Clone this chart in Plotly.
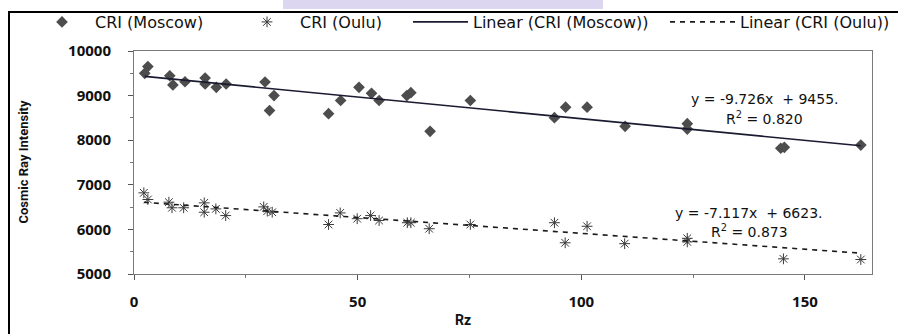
import plotly.graph_objects as go

# ---------------- data ----------------
rz_moscow = [2.4, 3.1, 8.0, 8.7, 11.4, 15.9, 15.9, 18.4, 20.6, 29.3, 30.3, 31.3,
             43.5, 46.2, 50.3, 53.1, 54.8, 61.0, 61.9, 66.2, 75.2, 94.0, 96.5,
             101.3, 109.8, 123.7, 123.7, 144.6, 145.4, 162.5]
cri_moscow = [9500, 9650, 9445, 9240, 9310, 9395, 9260, 9185, 9260, 9305, 8665, 9000,
              8595, 8890, 9185, 9050, 8890, 9000, 9065, 8200, 8890, 8505, 8740,
              8740, 8310, 8370, 8250, 7820, 7840, 7890]

rz_oulu = [2.2, 3.1, 7.8, 8.5, 11.1, 15.7, 15.7, 18.3, 20.5, 29.0, 29.8, 30.9,
           43.5, 46.1, 49.9, 52.9, 54.8, 61.1, 61.9, 66.0, 75.2, 94.0, 96.4,
           101.3, 109.7, 123.7, 123.7, 145.2, 162.5]
cri_oulu = [6820, 6670, 6610, 6485, 6485, 6595, 6385, 6460, 6310, 6505, 6410, 6385,
            6110, 6370, 6240, 6310, 6200, 6150, 6150, 6015, 6110, 6150, 5700,
            6070, 5680, 5800, 5720, 5340, 5325]

# trendline coefficients as printed on the chart
slope_moscow, icpt_moscow, r2_moscow = -9.726, 9455, 0.820
slope_oulu, icpt_oulu, r2_oulu = -7.117, 6623, 0.873

x_ticks = [0, 50, 100, 150]
x_ticktext = ["0", "50", "100", "150"]
y_ticks = [5000, 6000, 7000, 8000, 9000, 10000]
y_ticktext = ["5000", "6000", "7000", "8000", "9000", "10000"]

# ---------------- figure ----------------
def trend(xs, m, b):
    xr = [min(xs), max(xs)]
    return xr, [m * v + b for v in xr]

tmx, tmy = trend(rz_moscow, slope_moscow, icpt_moscow)
tox, toy = trend(rz_oulu, slope_oulu, icpt_oulu)

fig = go.Figure()
fig.add_trace(go.Scatter(
    x=rz_moscow, y=cri_moscow, mode="markers", name="CRI (Moscow)",
    marker=dict(symbol="diamond", size=9, color="#4d4d4d"), legend="legend"))
fig.add_trace(go.Scatter(
    x=rz_oulu, y=cri_oulu, mode="markers", name="CRI (Oulu)",
    marker=dict(symbol="asterisk-open", size=9, color="#3a3a3a",
                line=dict(width=1, color="#3a3a3a")), legend="legend2"))
fig.add_trace(go.Scatter(
    x=tmx, y=tmy, mode="lines", name="Linear (CRI (Moscow))",
    line=dict(color="#1a1a30", width=1.6), legend="legend3"))
fig.add_trace(go.Scatter(
    x=tox, y=toy, mode="lines", name="Linear (CRI (Oulu))",
    line=dict(color="#1a1a1a", width=1.6, dash="5px,5px"), legend="legend4"))

L, R, T, B = 134, 26, 51, 60
W, H = 898, 334
pw, ph = W - L - R, H - T - B

def px(xp):
    return (xp - L) / pw

def py(yp):
    return (H - B - yp) / ph

leg_font = dict(family="DejaVu Sans", size=16, color="#111")
common = dict(orientation="h", yanchor="middle", y=py(22), xanchor="left",
              bgcolor="rgba(0,0,0,0)", font=leg_font)

tick_font = dict(family="Open Sans", size=15, color="#111", weight="bold")
axis_common = dict(showline=True, mirror=True, linecolor="#7a7a7a", linewidth=1,
                   showgrid=False, zeroline=False, ticks="outside", ticklen=5,
                   tickcolor="#555", tickfont=tick_font, automargin=False)

fig.update_layout(
    width=W, height=H,
    margin=dict(l=L, r=R, t=T, b=B, autoexpand=False),
    paper_bgcolor="white", plot_bgcolor="white",
    showlegend=True,
    legend=dict(x=px(29), itemwidth=56, **common),
    legend2=dict(x=px(234), itemwidth=56, **common),
    legend3=dict(x=px(408), itemwidth=55, **common),
    legend4=dict(x=px(665), itemwidth=65, **common),
    xaxis=dict(range=[0, 165], tickvals=x_ticks, ticktext=x_ticktext,
               ticklabelstandoff=9,
               minor=dict(dtick=25, ticks="outside", ticklen=3, tickcolor="#777"),
               **axis_common),
    yaxis=dict(range=[5000, 10000], tickvals=y_ticks, ticktext=y_ticktext,
               ticklabelstandoff=14,
               minor=dict(dtick=500, ticks="outside", ticklen=3, tickcolor="#777"),
               **axis_common),
)

eq_font = dict(family="DejaVu Sans", size=14, color="#111")
annotations = [
    dict(x=141, y=8913, xref="x", yref="y",
         text="y = -9.726x\u00a0 + 9455.", showarrow=False, font=eq_font),
    dict(x=141, y=8509, xref="x", yref="y",
         text="R<sup>2</sup> = %.3f" % r2_moscow, showarrow=False, font=eq_font),
    dict(x=137.6, y=6379, xref="x", yref="y",
         text="y = -7.117x\u00a0 + 6623.", showarrow=False, font=eq_font),
    dict(x=137.6, y=5975, xref="x", yref="y",
         text="R<sup>2</sup> = %.3f" % r2_oulu, showarrow=False, font=eq_font),
    dict(x=px(463), y=py(330), xref="paper", yref="paper", text="Rz",
         showarrow=False, font=dict(family="Roboto", size=14, color="#111", weight="bold")),
    dict(x=px(13), y=py(162), xref="paper", yref="paper", text="Cosmic Ray Intensity",
         textangle=-90, showarrow=False,
         font=dict(family="Roboto", size=13, color="#111", weight="bold")),
]
fig.update_layout(annotations=annotations)

shapes = [
    # outer chart border
    dict(type="rect", xref="paper", yref="paper",
         x0=px(9), x1=px(902), y0=py(338), y1=py(12),
         line=dict(color="black", width=2), layer="above"),
    # faint watermark band above the border
    dict(type="rect", xref="paper", yref="paper",
         x0=px(283), x1=px(603), y0=py(9), y1=py(0),
         fillcolor="#dcd6f0", line=dict(width=0), layer="below"),
]
fig.update_layout(shapes=shapes)

fig.write_html("out.html", config={"displayModeBar": False},
               post_script="document.body.style.margin='0';document.body.style.padding='0';")
